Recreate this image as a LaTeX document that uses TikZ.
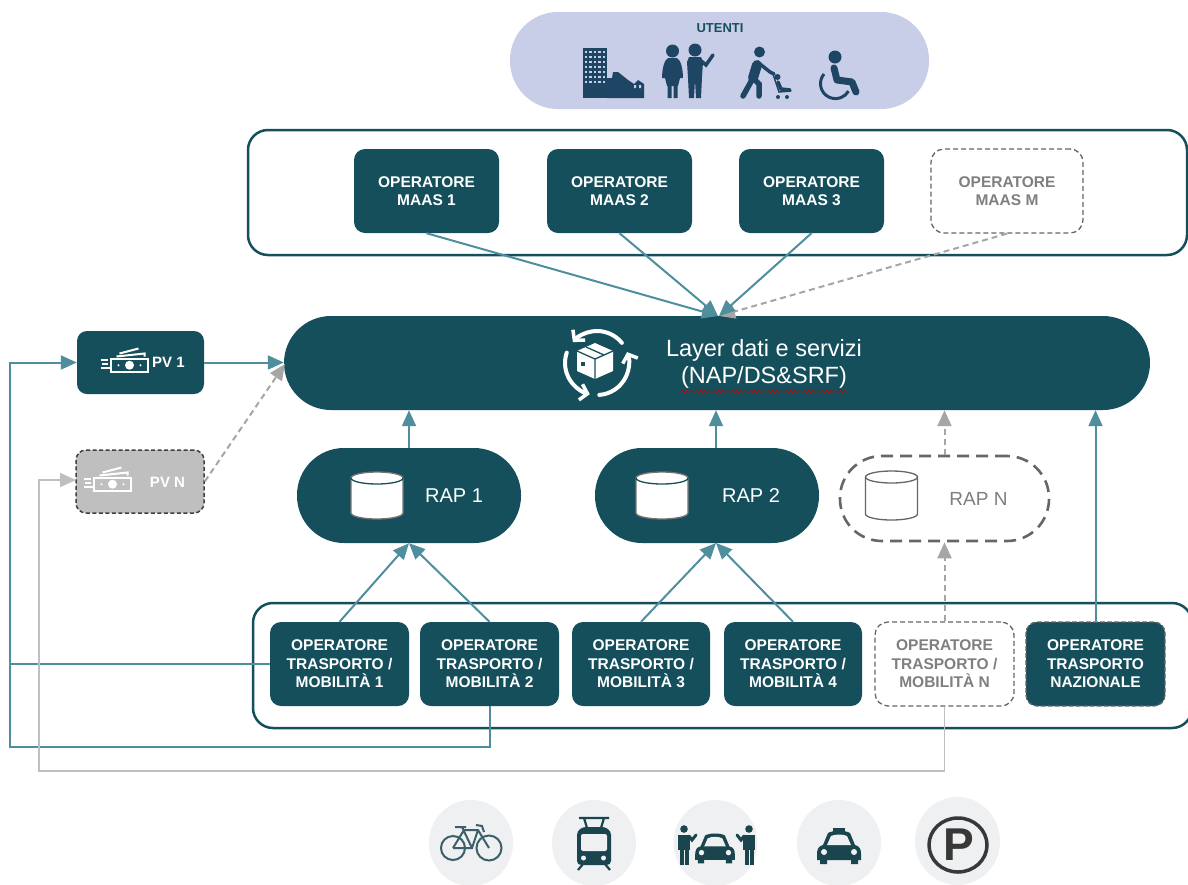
\documentclass[tikz,border=0pt]{standalone}
\usepackage{fontspec}
\setmainfont{Liberation Sans}
\usetikzlibrary{arrows.meta,decorations.pathmorphing,shapes.geometric}
\definecolor{teal}{HTML}{154F5C}
\definecolor{linec}{HTML}{4E8E9D}
\definecolor{lilac}{HTML}{C9CEE8}
\definecolor{navy}{HTML}{1F4565}
\definecolor{dgray}{HTML}{666666}
\definecolor{lgray}{HTML}{A6A6A6}
\definecolor{silver}{HTML}{BFBFBF}
\definecolor{pale}{HTML}{EEF0F1}
\definecolor{tx}{HTML}{7F7F7F}
\definecolor{icon}{HTML}{1A444E}
\tikzset{
  frame/.style={draw=teal,line width=2.5pt,rounded corners=20pt,fill=white},
  opbox/.style={fill=teal,rounded corners=11pt,inner sep=0pt,text=white,align=center,
    font=\fontsize{15.5}{18.5}\selectfont\bfseries,minimum width=#1,minimum height=84pt},
  opdash/.style={fill=white,draw=dgray,line width=1.3pt,dash pattern=on 5pt off 3pt,rounded corners=13pt,
    inner sep=0pt,text=tx,align=center,font=\fontsize{15.5}{18.5}\selectfont\bfseries,minimum width=#1,minimum height=84pt},
  pill/.style={fill=teal,inner sep=0pt,rounded corners=47pt},
  flow/.style={draw=linec,line width=2pt,-{Triangle[length=16pt,width=14pt,fill=linec]}},
  gflow/.style={draw=lgray,line width=2pt,dash pattern=on 6pt off 4pt,-{Triangle[length=16pt,width=14pt,fill=lgray]}},
  plain/.style={draw=linec,line width=2pt},
  gplain/.style={draw=silver,line width=1.8pt},
  bubble/.style={ellipse,fill=pale,inner sep=0pt,minimum width=84pt,minimum height=86pt},
}
\newcommand\cashicon[3]{%
 \begin{scope}[shift={(#1,#2)},draw=#3,line width=2pt]
  \draw (0,0) rectangle (37,13.5);
  \fill[#3] (19,6.7) circle (4.5);
  \fill[#3] (8,6.7) circle (1.1) (30,6.7) circle (1.1);
  \draw (-10,1) -- (-3,1) (-9,5) -- (-3,5) (-10,9.5) -- (-1,9.5) ;
  \draw (6,-2) -- (34,-5) -- (34,-2);
  \draw (9,-5) -- (28,-10);
 \end{scope}}
\newcommand\dbicon[6]{% cx, top, rx, h, outline, top-edge colour
 \draw[draw=#5,line width=1.3pt,fill=white] (#1-#3,#2) -- (#1-#3,#2+#4) arc[start angle=180,end angle=0,x radius=#3,y radius=6]
   -- (#1+#3,#2) arc[start angle=0,end angle=-180,x radius=#3,y radius=6] -- cycle;
 \draw[draw=#6,line width=1.3pt] (#1-#3,#2) arc[start angle=180,end angle=0,x radius=#3,y radius=6];}
\newcommand\caricon[3]{% cx, cy, scale
 \begin{scope}[shift={(#1,#2)},scale=#3]
  \fill[icon] (-16,-3) -- (-11,-15) .. controls (-6,-18) and (6,-18) .. (11,-15) -- (16,-3) .. controls (21,-2) and (22,2) .. (22,6) -- (22,12) -- (19,12) -- (19,16) -- (12,16) -- (12,12) -- (-12,12) -- (-12,16) -- (-19,16) -- (-19,12) -- (-22,12) -- (-22,6) .. controls (-22,2) and (-21,-2) .. (-16,-3) -- cycle;
  \fill[pale] (-12,-3) -- (-8,-12) .. controls (-4,-14) and (4,-14) .. (8,-12) -- (12,-3) -- cycle;
  \fill[pale] (-15,4) circle (3) (15,4) circle (3);
 \end{scope}}
\newcommand\standee[3]{% cx, top, armdir
 \fill[icon] (#1,#2+4) circle (3.8);
 \fill[icon] (#1-6,#2+10) rectangle (#1+6,#2+25);
 \fill[icon] (#1-4.5,#2+25) rectangle (#1-.5,#2+40);
 \fill[icon] (#1+.5,#2+25) rectangle (#1+4.5,#2+40);
 \draw[icon,line width=3pt,line cap=round] (#1+#3*5,#2+11) -- (#1+#3*8,#2+15) -- (#1+#3*12,#2+10);}
\begin{document}
\begin{tikzpicture}[x=1pt,y=-1pt]
\useasboundingbox (0,0) rectangle (1188,884);
\fill[white] (0,0) rectangle (1188,884);

% users
\node[fill=lilac,inner sep=0pt,rounded corners=48pt,minimum width=419pt,minimum height=97pt] (users) at (719.5,60.5) {};
\node[text=teal,inner sep=0pt,font=\fontsize{13}{15}\selectfont\bfseries] (utenti) at (720,28) {UTENTI};
% building
\fill[navy] (583,48) rectangle (607,98);
\fill[navy] (607,78) -- (612,78) -- (613,72) -- (618,72) -- (628,80) -- (634,84) -- (638,80) -- (644,84) -- (644,98) -- (607,98) -- cycle;
\foreach \cx in {586,590.5,595,599.5,604}{\foreach \cy in {52,57,62,67,72,77,82}{\fill[lilac] (\cx-1.2,\cy-1.2) rectangle (\cx+1.2,\cy+1.2);}}
\fill[lilac] (634,85) rectangle (636,88) (639,85) rectangle (641,88);
% couple
\fill[navy] (672.5,51) circle (6.5);
\fill[navy] (668,58) -- (677,58) .. controls (681,60) and (683,70) .. (683,78) -- (680,78) -- (678,86) -- (667,86) -- (665,78) -- (662,78) .. controls (662,70) and (664,60) .. (668,58) -- cycle;
\fill[navy] (667.5,85) rectangle (671.5,98) (673.5,85) rectangle (677.5,98);
\fill[navy] (695,50) circle (6.5);
\fill[navy] (689,57) -- (701,57) -- (703,62) -- (702,77) -- (701,98) -- (696,98) -- (695,80) -- (694,98) -- (689,98) -- (688,78) -- (687,62) -- cycle;
\draw[navy,line width=3.5pt,line cap=round] (700,60) -- (706,65) -- (713,55);
% person with pushchair
\fill[navy] (759.5,52) circle (5.5);
\draw[navy,line width=10pt,line cap=round] (757,65) -- (753,78);
\draw[navy,line width=5.5pt,line cap=round] (753,78) -- (743,96);
\draw[navy,line width=5.5pt,line cap=round] (753,78) -- (759,84) -- (759,96);
\draw[navy,line width=3.5pt,line cap=round] (760,64) -- (770,72) -- (774,74);
\draw[navy,line width=1.5pt] (773,74) -- (779,92) -- (791,91);
\fill[navy] (777.5,77) circle (3);
\draw[navy,line width=3.5pt,line cap=round] (778,82) -- (781,89) -- (790,90);
\fill[navy] (778,97) circle (2) (787,97) circle (2);
% wheelchair
\fill[navy] (835,57) circle (6.5);
\draw[navy,line width=7pt,line cap=round,line join=round] (834,68) -- (837,80) -- (852,82) -- (856,92);
\draw[navy,line width=3pt] (824,74) arc[start angle=220,end angle=30,radius=15];

% MaaS frame
\node[frame,minimum width=939pt,minimum height=125pt,inner sep=0pt] (mframe) at (717.5,192.5) {};
\node[opbox=145pt] (m1) at (426.5,191) {OPERATORE\\MAAS 1};
\node[opbox=145pt] (m2) at (619.5,191) {OPERATORE\\MAAS 2};
\node[opbox=145pt] (m3) at (811.5,191) {OPERATORE\\MAAS 3};
\node[opdash=152pt] (m4) at (1007,191) {OPERATORE\\MAAS M};

% layer
\node[pill,minimum width=866pt,minimum height=94pt] (layer) at (717,363) {};
\node[text=white,inner sep=0pt,align=center,font=\fontsize{23.5}{27}\selectfont] (layert) at (764,363.5) {Layer dati e servizi\\(NAP/DS\&SRF)};
\draw[red!80!black,line width=.8pt,decorate,decoration={snake,amplitude=.9pt,segment length=4.5pt}] (681,391.5) -- (846,391.5);
% cycle icon
\begin{scope}[white,line width=4pt,line cap=round]
 \draw[-{Straight Barb[length=7pt,width=16pt,line width=3.5pt]}] (597,363) ++(-39:32) arc[start angle=-39,end angle=-139,radius=32];
 \draw[-{Straight Barb[length=7pt,width=16pt,line width=3.5pt]}] (597,363) ++(86:32) arc[start angle=86,end angle=-20,radius=32];
 \draw[-{Straight Barb[length=7pt,width=16pt,line width=3.5pt]}] (597,363) ++(199:32) arc[start angle=199,end angle=103,radius=32];
\end{scope}
\fill[white] (595,343) -- (613,351) -- (613,371) -- (595,379) -- (577,371) -- (577,351) -- cycle;
\draw[teal,line width=1.3pt] (577,351) -- (595,359) -- (613,351) (595,359) -- (595,379) (586,347) -- (604,355);
\fill[teal] (581,362) rectangle (585,366);

% PV
\node[fill=teal,rounded corners=10pt,inner sep=0pt,minimum width=127pt,minimum height=63pt] (pv1) at (140.5,362.5) {};
\cashicon{110.5}{358.5}{white}
\node[text=white,inner sep=0pt,font=\fontsize{15}{17}\selectfont\bfseries] (pv1t) at (168.5,362.5) {PV 1};
\node[fill=silver,draw=black!75,line width=1.5pt,dash pattern=on 4pt off 2.5pt,rounded corners=10pt,inner sep=0pt,minimum width=128pt,minimum height=63pt] (pvn) at (140,481.5) {};
\cashicon{93.5}{477.5}{white}
\node[text=white,inner sep=0pt,font=\fontsize{15}{17}\selectfont\bfseries] (pvnt) at (167.5,482) {PV N};

% RAP
\node[pill,minimum width=224pt,minimum height=95pt] (rap1) at (409,495.5) {};
\dbicon{377}{478}{26}{35}{black!55}{teal}
\node[text=white,inner sep=0pt,font=\fontsize{20}{24}\selectfont] (rap1t) at (454,495.5) {RAP 1};
\node[pill,minimum width=224pt,minimum height=95pt] (rap2) at (707,495.5) {};
\dbicon{662}{478}{26}{35}{black!55}{teal}
\node[text=white,inner sep=0pt,font=\fontsize{20}{24}\selectfont] (rap2t) at (751,495.5) {RAP 2};
\node[draw=dgray,line width=2.6pt,dash pattern=on 12pt off 7pt,inner sep=0pt,rounded corners=42pt,minimum width=209pt,minimum height=85pt] (rapn) at (944.5,498.5) {};
\dbicon{891.5}{477}{26}{37}{dgray}{dgray}
\node[text=tx,inner sep=0pt,font=\fontsize{19}{24}\selectfont] (rapnt) at (978.5,498.5) {RAP N};

% transport frame
\node[frame,minimum width=939pt,minimum height=125pt,inner sep=0pt] (tframe) at (722.5,665.5) {};
\node[opbox=139pt] (o1) at (339.5,664) {OPERATORE\\TRASPORTO /\\MOBILITÀ 1};
\node[opbox=139pt] (o2) at (489.5,664) {OPERATORE\\TRASPORTO /\\MOBILITÀ 2};
\node[opbox=138pt] (o3) at (641,664) {OPERATORE\\TRASPORTO /\\MOBILITÀ 3};
\node[opbox=138pt] (o4) at (793,664) {OPERATORE\\TRASPORTO /\\MOBILITÀ 4};
\node[opdash=139pt] (o5) at (944.5,664) {OPERATORE\\TRASPORTO /\\MOBILITÀ N};
\node[opbox=139pt,draw=dgray,line width=1.3pt,dash pattern=on 5pt off 2pt] (o6) at (1095.5,664) {OPERATORE\\TRASPORTO\\NAZIONALE};

% connectors
\coordinate (la) at (718,316);
\coordinate (lb) at (719,316);
\draw[gflow] (m4.south) -- (lb);
\draw[flow] (m1.south) -- (la);
\draw[flow] (m2.south) -- (la);
\draw[flow] (m3.south) -- (lb);
\draw[flow] (pv1.east) -- (layer.west |- pv1.east);
\coordinate (ly) at (285,364);
\draw[gflow] (pvn.east) -- (ly);
\draw[flow] (rap1.north) -- (rap1.north |- layer.south);
\coordinate (r2t) at (716,448);
\draw[flow] (r2t) -- (r2t |- layer.south);
\draw[gflow] (rapn.north) -- (rapn.north |- layer.south);
\draw[flow] (o6.north) -- (o6.north |- layer.south);
\draw[flow] (o1.north) -- (rap1.south);
\draw[flow] (o2.north) -- (rap1.south);
\coordinate (r2b) at (716,543);
\draw[flow] (o3.north) -- (r2b);
\draw[flow] (o4.north) -- (r2b);
\draw[gflow] (o5.north) -- (rapn.south);
\coordinate (c1) at (10,664);
\coordinate (c2) at (10,747);
\coordinate (c3) at (39,771);
\draw[plain] (o1.west) -- (c1);
\draw[flow] (o2.south) |- (c2) -- (c2 |- pv1.west) -- (pv1.west);
\coordinate (pvnin) at (76,480);
\draw[gplain,-{Triangle[length=16pt,width=14pt,fill=silver]}] (o5.south) |- (c3) -- (c3 |- pvnin) -- (pvnin);

% bottom icons
\begin{scope}
\clip (0,0) rectangle (1188,884);
\node[bubble] (b1) at (471,843) {};
\node[bubble] (b2) at (594,843) {};
\node[bubble] (b3) at (715.5,843) {};
\node[bubble] (b4) at (839,843) {};
\node[bubble,minimum width=85pt,minimum height=88pt] (b5) at (957.5,841) {};
\end{scope}
% bicycle
\begin{scope}[draw=icon!85!white,line width=2pt]
 \draw (453,848) circle (12) (489,848) circle (12.5);
 \draw (453,848) -- (464,830) -- (478,830) -- (489,848) (453,848) -- (472,848) -- (478,830) (472,848) -- (462,827) (455,827) -- (466,827) (476,825) -- (482,826) -- (484,832);
\end{scope}
% tram
\fill[icon] (577,835) .. controls (577,830) and (582,827) .. (586,827) -- (602,827) .. controls (606,827) and (611,830) .. (611,835) -- (611,861) .. controls (611,864) and (609,865) .. (606,865) -- (582,865) .. controls (579,865) and (577,864) .. (577,861) -- cycle;
\fill[pale,rounded corners=2pt] (581,834) rectangle (607,851);
\fill[pale] (583.5,858) circle (2.5) (603.5,858) circle (2.5);
\draw[icon,line width=2.2pt] (579,818) -- (609,818) (584,818) -- (587,828) (604,818) -- (601,828) (583,864) -- (578,870) (605,864) -- (610,870);
% car sharing
\caricon{715}{849}{.9}
\standee{684}{825}{1}
\standee{749}{825}{-1}
% taxi
\caricon{839}{848}{1}
\fill[icon] (833,827.5) rectangle (845,833);
% parking
\draw[black!78,line width=3.5pt] (958,845) ellipse[x radius=29,y radius=27];
\node[text=black!78,inner sep=0pt,font=\fontsize{46}{46}\selectfont\bfseries] (ptxt) at (959,845) {P};
\end{tikzpicture}
\end{document}
